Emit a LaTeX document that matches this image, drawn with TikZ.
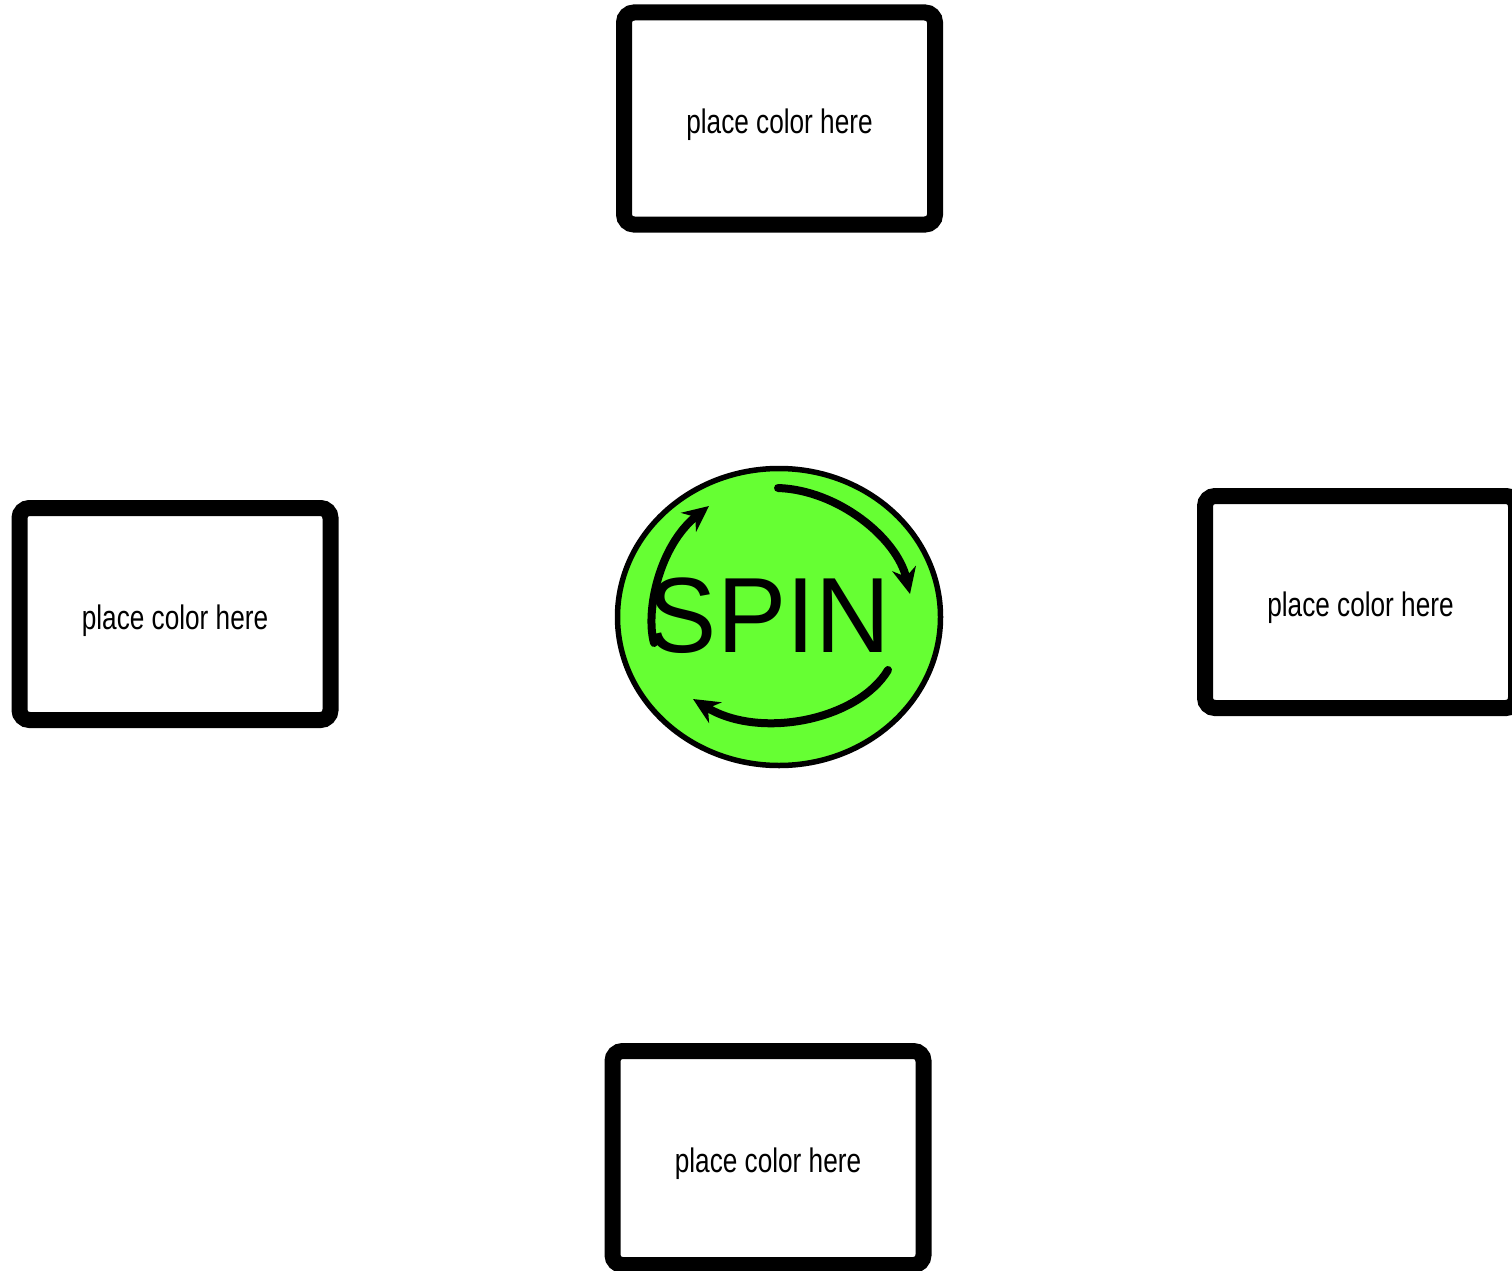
\documentclass[tikz,border=0pt]{standalone}
\usepackage{fontspec}
\usepackage{graphicx}
\setmainfont{Liberation Sans}
\usetikzlibrary{shapes.geometric,arrows.meta}
\definecolor{spingreen}{RGB}{102,255,51}
\begin{document}
\begin{tikzpicture}[x=1pt,y=-1pt,
  colorbox/.style={draw=black,line width=16pt,rounded corners=10pt,fill=white,
    minimum width=311pt,minimum height=212pt,inner sep=0pt},
  boxlabel/.style={inner sep=0pt,font=\fontsize{34}{40}\selectfont},
  spinarrow/.style={line width=8pt,line cap=round,-{Stealth[length=26pt,width=24pt]}}]
\useasboundingbox (0,0) rectangle (1512,1271);
\clip (0,0) rectangle (1512,1271);
\fill[white] (0,0) rectangle (1512,1271);
% boxes
\node[colorbox] (top) at (779.5,118.5) {};
\node[colorbox] (left) at (175,614) {};
\node[colorbox] (right) at (1360.5,602) {};
\node[colorbox,minimum height=214pt] (bottom) at (768,1158) {};
\node[boxlabel] (toplabel) at ([yshift=-6pt]top.center) {\scalebox{0.77}[1]{place color here}};
\node[boxlabel] (leftlabel) at ([yshift=-7pt]left.center) {\scalebox{0.77}[1]{place color here}};
\node[boxlabel] (rightlabel) at ([yshift=-6pt]right.center) {\scalebox{0.77}[1]{place color here}};
\node[boxlabel] (bottomlabel) at ([yshift=-6pt]bottom.center) {\scalebox{0.77}[1]{place color here}};
% spin disc
\node[ellipse,draw=black,line width=5.5pt,fill=spingreen,minimum width=323pt,minimum height=297pt,inner sep=0pt] (spin) at (779,617) {};
\node[inner sep=0pt,font=\fontsize{107}{120}\selectfont] (spintext) at (769,616) {\scalebox{0.97}[1]{SPIN}};
% arrows
\coordinate (a1s) at (778,488);
\coordinate (a1e) at (910,594);
\coordinate (a2s) at (888,670);
\coordinate (a2e) at (693,699);
\coordinate (a3s) at (654,643);
\coordinate (a3e) at (709,506);
\draw[spinarrow] (a1s) .. controls (838,490) and (897,538) .. (a1e);
\draw[spinarrow] (a2s) .. controls (858,720) and (760,740) .. (a2e);
\draw[spinarrow] (a3s) .. controls (645,610) and (660,545) .. (a3e);
\end{tikzpicture}
\end{document}
